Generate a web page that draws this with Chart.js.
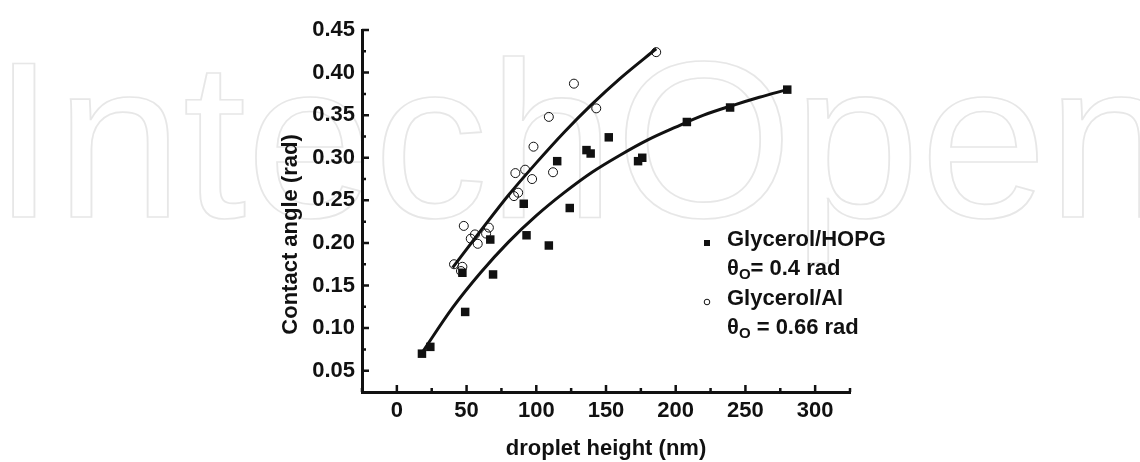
<!DOCTYPE html>
<html>
<head>
<meta charset="utf-8">
<script src="https://cdn.jsdelivr.net/npm/chart.js@4.4.1/dist/chart.umd.min.js"></script>
<style>
  html, body { margin: 0; padding: 0; background: #fff; }
  #wrap { width: 1140px; height: 462px; position: relative; }
</style>
</head>
<body>
<div id="wrap"><canvas id="chart"></canvas></div>
<script>
// Glycerol on HOPG: droplet height (nm) and contact angle (rad)
const hopgHeight = [18, 24, 47, 49, 67, 69, 91, 93, 109, 115, 124, 136, 139, 152, 173, 176, 208, 239, 280];
const hopgAngle = [0.070, 0.078, 0.165, 0.119, 0.204, 0.163, 0.246, 0.209, 0.197, 0.296, 0.241, 0.309, 0.305, 0.324, 0.296, 0.300, 0.342, 0.359, 0.380];

// Glycerol on Al
const alHeight = [41, 46, 47, 48, 53, 56, 58, 64, 66, 84, 85, 87, 92, 97, 98, 109, 112, 127, 143, 186];
const alAngle = [0.175, 0.167, 0.172, 0.220, 0.205, 0.210, 0.199, 0.211, 0.218, 0.255, 0.282, 0.259, 0.286, 0.275, 0.313, 0.348, 0.283, 0.387, 0.358, 0.424];

// fitted curves
const hopgFitX = [18, 40, 60, 80, 100, 120, 140, 160, 180, 200, 220, 240, 260, 280];
const hopgFitY = [0.071, 0.124, 0.165, 0.201, 0.232, 0.259, 0.283, 0.303, 0.321, 0.336, 0.350, 0.361, 0.371, 0.380];
const alFitX = [40, 60, 80, 100, 120, 140, 160, 186];
const alFitY = [0.171, 0.214, 0.256, 0.294, 0.330, 0.363, 0.393, 0.428];

// axis ticks
const xTicks = [0, 50, 100, 150, 200, 250, 300];
const xMinor = [-25, 25, 75, 125, 175, 225, 275, 325];
const yTicks = [0.05, 0.10, 0.15, 0.20, 0.25, 0.30, 0.35, 0.40, 0.45];
const yMinor = [0.075, 0.125, 0.175, 0.225, 0.275, 0.325, 0.375, 0.425];

// legend entries
const legendNames = ['Glycerol/HOPG', 'Glycerol/Al'];
const legendTheta = ['= 0.4 rad', ' = 0.66 rad'];
const yTitle = 'Contact angle (rad)';

const ink = '#111';
const font = 'Liberation Sans, Arial, Helvetica, sans-serif';

function pts(xs, ys) {
  return xs.map((x, i) => ({ x: x, y: ys[i] }));
}

// big outlined lettering behind the plot
const backdrop = {
  id: 'backdrop',
  beforeDraw(chart) {
    const ctx = chart.ctx;
    ctx.save();
    ctx.font = '222px ' + font;
    ctx.textBaseline = 'alphabetic';
    ctx.strokeStyle = '#e7e7e7';
    ctx.lineWidth = 1.7;
    ctx.translate(-8, 217);
    ctx.scale(1.03, 1);
    ctx.strokeText('IntechOpen', 0, 0);
    ctx.restore();
  }
};

// inward tick marks, major and minor, plus the vertical axis title
const tickMarks = {
  id: 'tickMarks',
  afterDraw(chart) {
    const ctx = chart.ctx;
    const xs = chart.scales.x, ys = chart.scales.y;
    const left = chart.chartArea.left, bottom = chart.chartArea.bottom;
    ctx.save();
    ctx.strokeStyle = ink;
    ctx.lineWidth = 2.5;
    ctx.beginPath();
    xTicks.forEach(v => {
      const px = xs.getPixelForValue(v);
      ctx.moveTo(px, bottom); ctx.lineTo(px, bottom - 7);
    });
    xMinor.forEach(v => {
      const px = xs.getPixelForValue(v);
      ctx.moveTo(px, bottom); ctx.lineTo(px, bottom - 4);
    });
    yTicks.forEach(v => {
      const py = ys.getPixelForValue(v);
      ctx.moveTo(left, py); ctx.lineTo(left + 7, py);
    });
    yMinor.forEach(v => {
      const py = ys.getPixelForValue(v);
      ctx.moveTo(left, py); ctx.lineTo(left + 4, py);
    });
    ctx.stroke();

    // title sits a little below the middle of the axis
    ctx.translate(left - 71, ys.getPixelForValue(0.21));
    ctx.rotate(-Math.PI / 2);
    ctx.fillStyle = ink;
    ctx.font = 'bold 22px ' + font;
    ctx.textAlign = 'center';
    ctx.textBaseline = 'middle';
    ctx.fillText(yTitle, 0, 0);
    ctx.restore();
  }
};

// legend with subscripted theta labels
const sideLegend = {
  id: 'sideLegend',
  afterDraw(chart) {
    const ctx = chart.ctx;
    const tx = 727, mx = 707;
    const base = [246, 275, 305, 334];
    ctx.save();
    ctx.fillStyle = ink;
    ctx.strokeStyle = ink;
    ctx.textBaseline = 'alphabetic';
    legendNames.forEach((name, i) => {
      const b1 = base[i * 2], b2 = base[i * 2 + 1];
      if (i === 0) {
        ctx.fillRect(mx - 3, b1 - 6, 6, 6);
      } else {
        ctx.lineWidth = 1;
        ctx.beginPath();
        ctx.arc(mx, b1 - 3, 2.8, 0, Math.PI * 2);
        ctx.stroke();
      }
      ctx.font = 'bold 22px ' + font;
      ctx.fillText(name, tx, b1);
      ctx.fillText('\u03b8', tx, b2);
      let x = tx + ctx.measureText('\u03b8').width;
      ctx.font = 'bold 15px ' + font;
      ctx.fillText('O', x, b2 + 4);
      x += ctx.measureText('O').width;
      ctx.font = 'bold 22px ' + font;
      ctx.fillText(legendTheta[i], x, b2);
    });
    ctx.restore();
  }
};

new Chart(document.getElementById('chart'), {
  type: 'scatter',
  data: {
    datasets: [
      {
        label: legendNames[0],
        data: pts(hopgHeight, hopgAngle),
        pointStyle: 'rect',
        pointRadius: 6,
        backgroundColor: ink,
        borderColor: ink,
        borderWidth: 0,
        order: 1
      },
      {
        label: legendNames[1],
        data: pts(alHeight, alAngle),
        pointStyle: 'circle',
        pointRadius: 4.5,
        backgroundColor: 'rgba(0,0,0,0)',
        borderColor: ink,
        borderWidth: 1,
        order: 1
      },
      {
        type: 'line',
        data: pts(hopgFitX, hopgFitY),
        borderColor: ink,
        borderWidth: 3,
        pointRadius: 0,
        cubicInterpolationMode: 'monotone',
        fill: false,
        order: 2
      },
      {
        type: 'line',
        data: pts(alFitX, alFitY),
        borderColor: ink,
        borderWidth: 3,
        pointRadius: 0,
        cubicInterpolationMode: 'monotone',
        fill: false,
        order: 2
      }
    ]
  },
  options: {
    responsive: true,
    maintainAspectRatio: false,
    animation: false,
    layout: { padding: { left: 270, right: 290, top: 30, bottom: 0 } },
    plugins: {
      legend: { display: false },
      tooltip: { enabled: false }
    },
    scales: {
      x: {
        type: 'linear',
        min: -25,
        max: 325,
        afterBuildTicks: s => { s.ticks = xTicks.map(v => ({ value: v })); },
        afterFit: s => { s.height = 70; },
        grid: { display: false, drawTicks: false },
        border: { display: true, color: ink, width: 3 },
        ticks: {
          color: ink,
          padding: 6,
          font: { family: font, size: 22, weight: 'bold' }
        },
        title: {
          display: true,
          text: 'droplet height (nm)',
          color: ink,
          padding: { top: 0, bottom: 0 },
          font: { family: font, size: 22, weight: 'bold' }
        }
      },
      y: {
        type: 'linear',
        min: 0.025,
        max: 0.45,
        afterBuildTicks: s => { s.ticks = yTicks.map(v => ({ value: v })); },
        afterFit: s => { s.width = 92; },
        grid: { display: false, drawTicks: false },
        border: { display: true, color: ink, width: 3 },
        ticks: {
          color: ink,
          padding: 7,
          callback: v => v.toFixed(2),
          font: { family: font, size: 22, weight: 'bold' }
        },
        title: { display: false }
      }
    }
  },
  plugins: [backdrop, tickMarks, sideLegend]
});
</script>
</body>
</html>
